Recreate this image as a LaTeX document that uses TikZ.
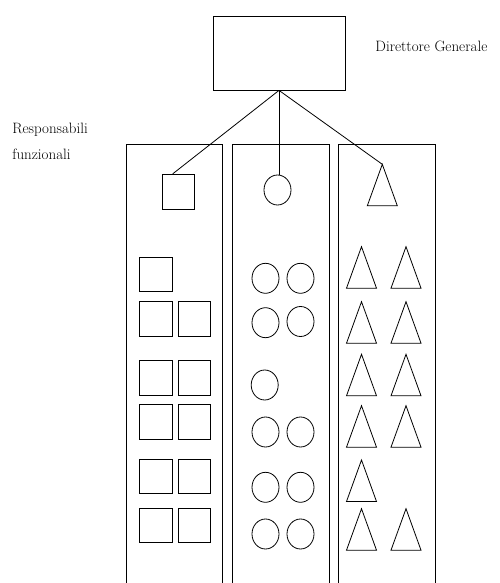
\documentclass[tikz,border=0pt]{standalone}
\usepackage{tikz}
\usetikzlibrary{positioning, shapes.geometric}

\begin{document}
\begin{tikzpicture}[x=1pt, y=-1pt, line width=0.8pt,
    sq/.style={draw, rectangle, inner sep=0pt, minimum width=32.5pt, minimum height=34.5pt},
    circ/.style={draw, ellipse, inner sep=0pt, minimum width=27pt, minimum height=30pt},
    lbl/.style={inner sep=0pt, anchor=base west, font=\fontsize{15}{17}\selectfont},
    tri/.pic={\coordinate (-apex) at (0,0);
              \draw (-15,41.5) -- (0,0) -- (15,41.5) -- cycle;}]

    % Fixing the canvas to the reference size
    \useasboundingbox (0,0) rectangle (499,583);

    % Top box: general manager with its label on the right
    \node[draw, rectangle, minimum width=132pt, minimum height=74pt] (dg) at (279,53) {};
    \node[lbl] (dglbl) at (375,51.7) {Direttore Generale};

    % Label for the functional managers on the left
    \node[lbl] (resp1) at (12,133) {Responsabili};
    \node[lbl] (resp2) at (12,159) {funzionali};

    % Three open columns running off the bottom edge
    \draw (126.7,583) -- (126.7,144) -- (222.3,144) -- (222.3,583);
    \draw (232.7,583) -- (232.7,144) -- (329,144) -- (329,583);
    \draw (338.7,583) -- (338.7,144) -- (435,144) -- (435,583);

    % Functional managers, one per column
    \node[sq, minimum height=35.5pt] (sq0) at (178.2,192) {};
    \node[circ] (ci0) at (277.5,190) {};
    \pic (t0) at (382.3,164.3) {tri};

    % Links from the general manager down to each functional manager
    \draw (dg.south) -- ([xshift=-5.5pt]sq0.north);
    \draw (dg.south) -- (dg.south |- ci0.north);
    \draw (dg.south) -- (t0-apex);

    % Left column: squares
    \node[sq] (sq1a) at (155.7,274.2) {};
    \node[sq] (sq2a) at (155.7,318.8) {};
    \node[sq] (sq2b) at (194.5,318.8) {};
    \node[sq] (sq3a) at (155.7,377.7) {};
    \node[sq] (sq3b) at (194.5,377.7) {};
    \node[sq] (sq4a) at (155.7,422) {};
    \node[sq] (sq4b) at (194.5,422) {};
    \node[sq] (sq5a) at (155.7,476.2) {};
    \node[sq] (sq5b) at (194.5,476.2) {};
    \node[sq] (sq6a) at (155.7,525.3) {};
    \node[sq] (sq6b) at (194.5,525.3) {};

    % Middle column: circles
    \node[circ] (ci1a) at (265.5,278.3) {};
    \node[circ] (ci1b) at (300.5,278.3) {};
    \node[circ] (ci2a) at (265.5,322.7) {};
    \node[circ] (ci2b) at (300.5,321.5) {};
    \node[circ] (ci3a) at (264.7,385) {};
    \node[circ] (ci4a) at (265.5,432) {};
    \node[circ] (ci4b) at (300.5,432) {};
    \node[circ] (ci5a) at (265.5,487.3) {};
    \node[circ] (ci5b) at (300.5,487.3) {};
    \node[circ] (ci6a) at (265.5,534) {};
    \node[circ] (ci6b) at (300.5,534) {};

    % Right column: triangles
    \pic (t1a) at (361.5,246.7) {tri};
    \pic (t1b) at (406,246.7) {tri};
    \pic (t2a) at (361.5,301.7) {tri};
    \pic (t2b) at (406,301.7) {tri};
    \pic (t3a) at (361.5,354.3) {tri};
    \pic (t3b) at (406,354.3) {tri};
    \pic (t4a) at (361.5,405.7) {tri};
    \pic (t4b) at (406,405.7) {tri};
    \pic (t5a) at (361.5,460) {tri};
    \pic (t6a) at (361.5,508.7) {tri};
    \pic (t6b) at (406,508.7) {tri};

\end{tikzpicture}
\end{document}
